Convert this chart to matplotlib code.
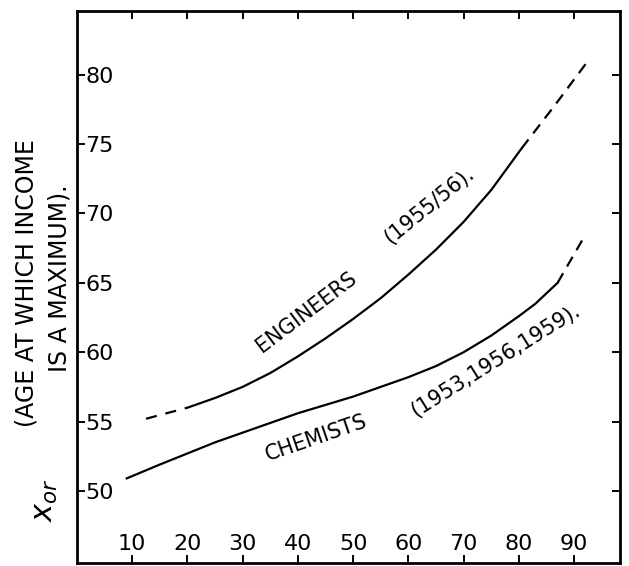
import numpy as np
import matplotlib
matplotlib.use('Agg')
import matplotlib.pyplot as plt

plt.rc('font', family='DejaVu Sans')

# engineers curve (solid part plus dashed extrapolations)
eng_x = [20, 25, 30, 35, 40, 45, 50, 55, 60, 65, 70, 75, 80.5]
eng_y = [56.0, 56.7, 57.5, 58.5, 59.7, 61.0, 62.4, 63.9, 65.6, 67.4, 69.4, 71.7, 74.7]
eng_lo_x = [12.5, 20]
eng_lo_y = [55.2, 56.0]
eng_hi_x = [80.5, 86.5, 92.5]
eng_hi_y = [74.7, 77.8, 81.0]

# chemists curve
chem_x = [9, 15, 20, 25, 30, 35, 40, 45, 50, 55, 60, 65, 70, 75, 80, 83, 87]
chem_y = [50.9, 51.9, 52.7, 53.5, 54.2, 54.9, 55.6, 56.2, 56.8, 57.5, 58.2, 59.0, 60.0, 61.2, 62.6, 63.5, 65.0]
chem_hi_x = [87, 91.5]
chem_hi_y = [65.0, 68.1]

xticks = [10, 20, 30, 40, 50, 60, 70, 80, 90]
yticks = [50, 55, 60, 65, 70, 75, 80]

fig = plt.figure(figsize=(6.29, 5.66), dpi=100)
ax = fig.add_axes([77/629, 3/566, 543/629, 552/566])

lw = 1.6
ax.plot(eng_x, eng_y, color='black', lw=lw, solid_joinstyle='round')
ax.plot(eng_lo_x, eng_lo_y, color='black', lw=lw, dashes=(5, 4))
ax.plot(eng_hi_x, eng_hi_y, color='black', lw=lw, dashes=(5, 3.5))
ax.plot(chem_x, chem_y, color='black', lw=lw, solid_joinstyle='round')
ax.plot(chem_hi_x, chem_hi_y, color='black', lw=lw, dashes=(5, 3.5))

ax.set_xlim(0, 98.3)
ax.set_ylim(44.8, 84.6)
ax.set_xticks(xticks)
ax.set_yticks(yticks)
ax.set_xticklabels([str(v) for v in xticks])
ax.set_yticklabels([str(v) for v in yticks])

ax.tick_params(direction='in', length=5.8, width=1.4, top=True, right=True,
               labelsize=16, colors='black')
ax.tick_params(axis='y', pad=-5.8)
ax.tick_params(axis='x', pad=-9.4)
for lab in ax.get_yticklabels():
    lab.set_horizontalalignment('left')
for lab in ax.get_xticklabels():
    lab.set_verticalalignment('baseline')

for s in ax.spines.values():
    s.set_linewidth(2)

# curve labels
ax.text(41.6, 62.9, 'ENGINEERS', rotation=37, ha='center', va='center', fontsize=15)
ax.text(63.7, 70.6, '(1955/56).', rotation=39, ha='center', va='center', fontsize=15)
ax.text(43.4, 53.8, 'CHEMISTS', rotation=19, ha='center', va='center', fontsize=15)
ax.text(75.7, 59.4, '(1953,1956,1959).', rotation=32, ha='center', va='center', fontsize=15)

# y axis label
fig.text(27/629, 1 - 283/566, '(AGE AT WHICH INCOME', rotation=90,
         ha='center', va='center', fontsize=17)
fig.text(60/629, 1 - 278/566, 'IS A MAXIMUM).', rotation=90,
         ha='center', va='center', fontsize=17)
fig.text(45/629, 1 - 500/566, r'$\mathit{x}_{or}$', rotation=90,
         ha='center', va='center', fontsize=22)

fig.savefig('out.png', dpi=100)
